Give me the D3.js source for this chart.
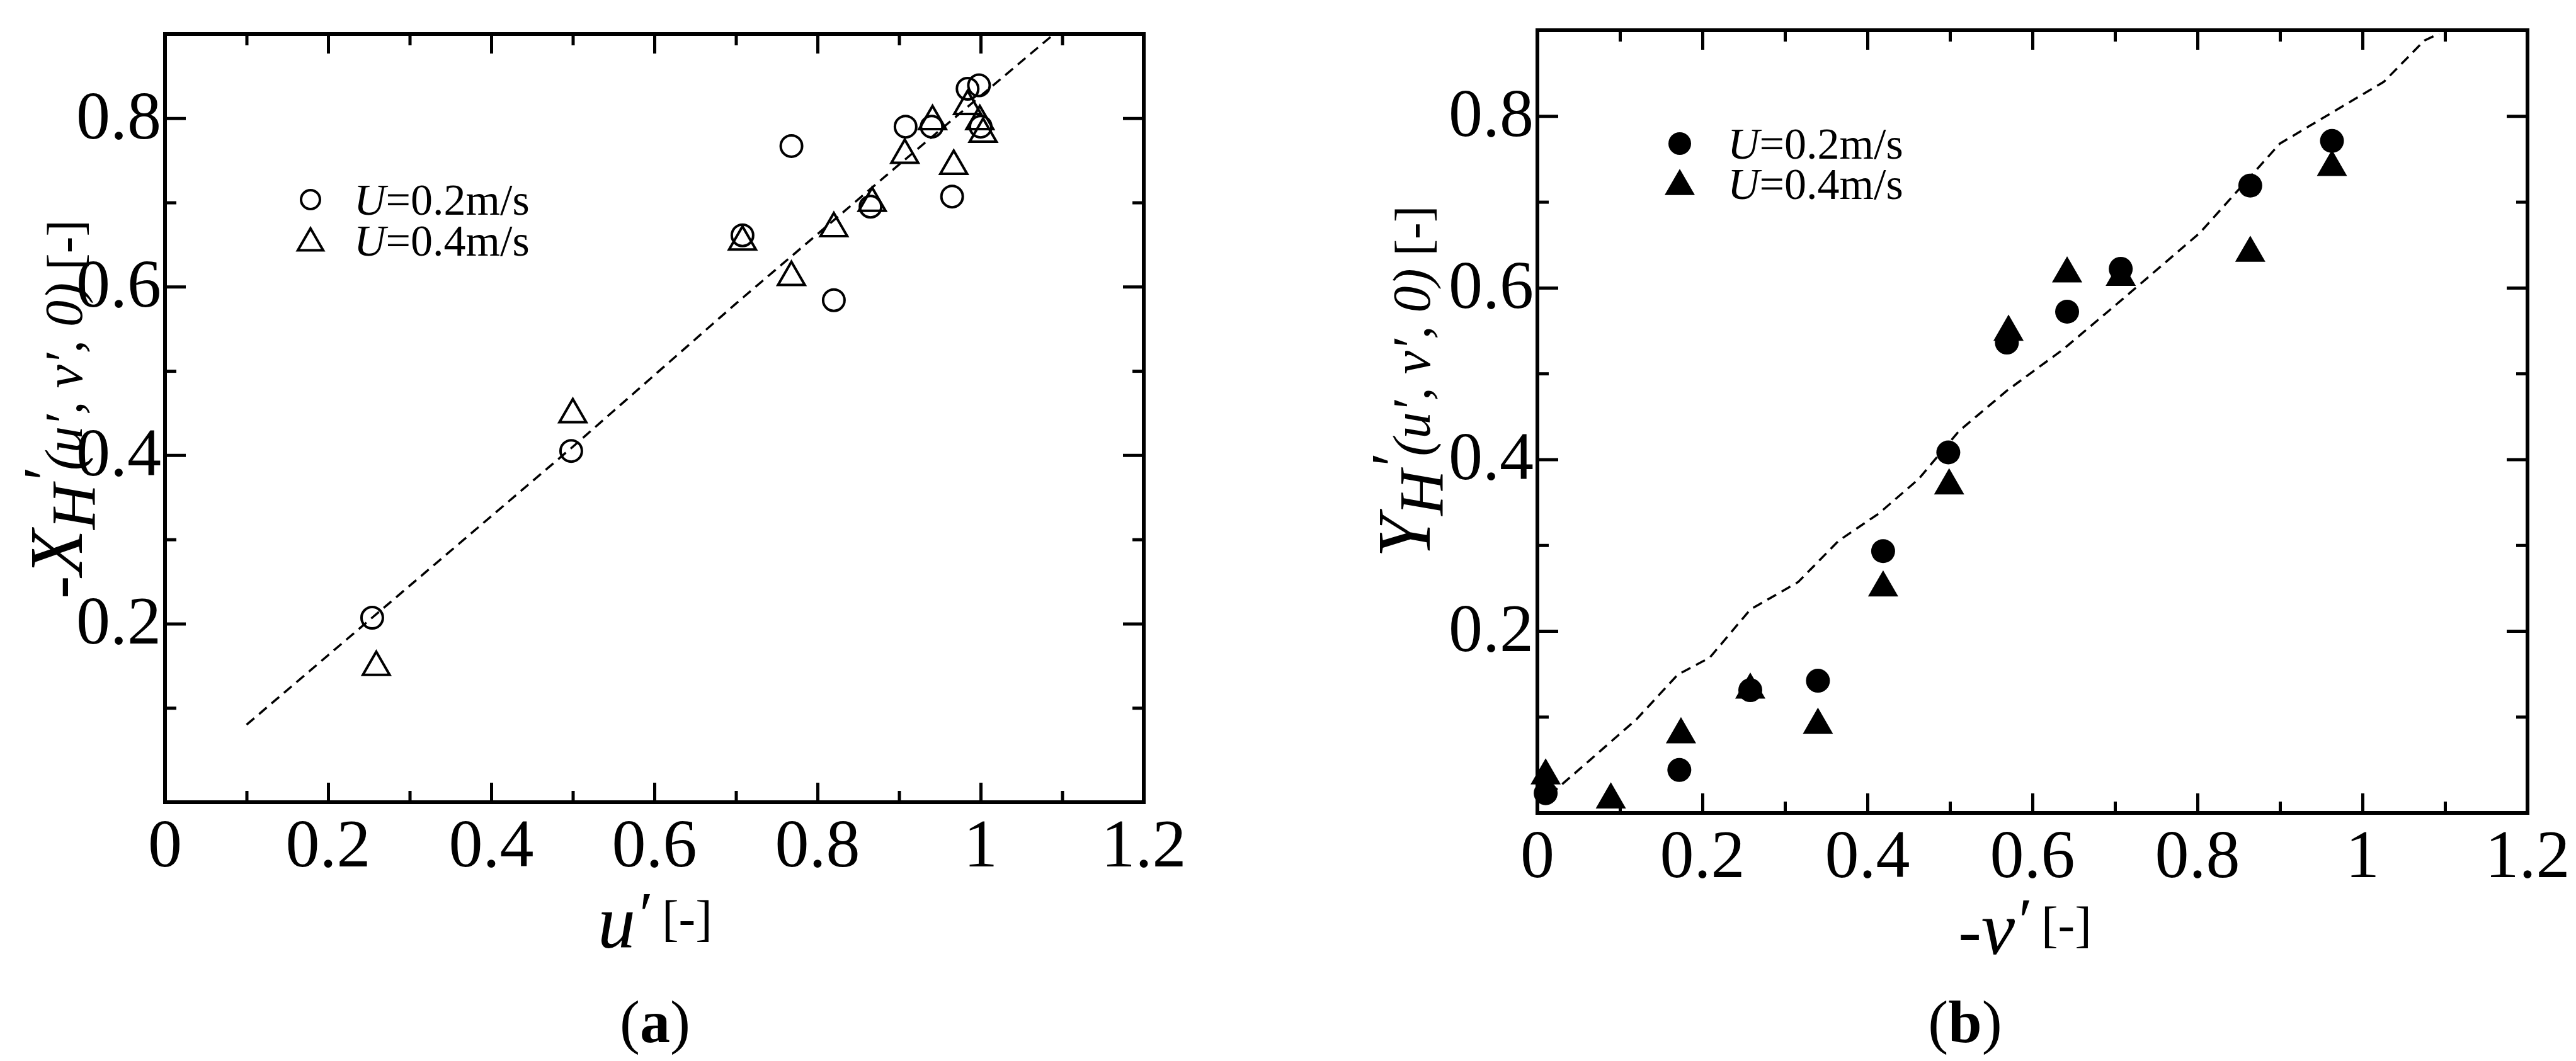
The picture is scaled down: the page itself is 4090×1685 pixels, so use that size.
<!DOCTYPE html>
<html>
<head>
<meta charset="utf-8">
<script src="https://cdn.jsdelivr.net/npm/d3@7"></script>
<style>
  body { margin: 0; background: #fff; }
  text { font-family: "Liberation Serif", "DejaVu Serif", serif; fill: #000; }
</style>
</head>
<body>
<svg id="chart" width="4090" height="1685"></svg>
<script>
// panel (a): -X_H' vs u'
const aCircleX = [0.254, 0.498, 0.708, 0.768, 0.82, 0.865, 0.908, 0.94, 0.965, 0.984, 0.998, 1.0];
const aCircleY = [0.207, 0.405, 0.661, 0.767, 0.584, 0.695, 0.79, 0.79, 0.707, 0.835, 0.839, 0.79];
const aTriX = [0.259, 0.5, 0.708, 0.768, 0.82, 0.867, 0.907, 0.941, 0.967, 0.984, 0.999, 1.003];
const aTriY = [0.152, 0.452, 0.657, 0.615, 0.673, 0.703, 0.76, 0.80, 0.747, 0.818, 0.80, 0.785];
const aFitX = [0.1, 0.3, 0.5, 0.7, 0.9, 1.09];
const aFitY = [0.08, 0.245, 0.41, 0.58, 0.745, 0.9];

// panel (b): Y_H' vs -v'
const bCircleX = [0.01, 0.172, 0.258, 0.34, 0.419, 0.498, 0.569, 0.642, 0.707, 0.864, 0.963];
const bCircleY = [0.011, 0.038, 0.131, 0.142, 0.293, 0.408, 0.536, 0.572, 0.622, 0.719, 0.771];
const bTriX = [0.01, 0.089, 0.174, 0.258, 0.34, 0.419, 0.499, 0.571, 0.642, 0.707, 0.864, 0.963];
const bTriY = [0.035, 0.007, 0.083, 0.135, 0.094, 0.254, 0.373, 0.552, 0.62, 0.616, 0.644, 0.744];
const bFitX = [0.015, 0.063, 0.12, 0.17, 0.209, 0.258, 0.316, 0.365, 0.414, 0.462, 0.511, 0.569, 0.637, 0.706, 0.803, 0.9, 1.026, 1.075, 1.093];
const bFitY = [0.009, 0.049, 0.097, 0.149, 0.169, 0.225, 0.257, 0.305, 0.337, 0.377, 0.433, 0.48, 0.528, 0.584, 0.664, 0.768, 0.84, 0.888, 0.896];

const xTicks = [0, 0.2, 0.4, 0.6, 0.8, 1, 1.2];
const yTicks = [0.2, 0.4, 0.6, 0.8];
const legendLabels = ["=0.2m/s", "=0.4m/s"];

const svg = d3.select("#chart");

function drawPanel(p) {
  const x = d3.scaleLinear().domain([0, 1.2]).range([p.left, p.right]);
  const y = d3.scaleLinear().domain([-0.012, 0.9]).range([p.bottom, p.top]);
  const g = svg.append("g");

  // minor + major ticks on all four sides, pointing inward
  const minorX = d3.range(0.1, 1.2, 0.2), minorY = d3.range(0.1, 0.9, 0.2);
  const axisStyle = sel => { sel.select(".domain").remove(); sel.selectAll("line").attr("stroke", "#000").attr("stroke-width", 5); sel.selectAll("text").remove(); };
  [[d3.axisBottom, p.bottom], [d3.axisTop, p.top]].forEach(([ax, pos]) => {
    g.append("g").attr("transform", `translate(0,${pos})`).call(ax(x).tickValues(xTicks).tickSize(-31)).call(axisStyle);
    g.append("g").attr("transform", `translate(0,${pos})`).call(ax(x).tickValues(minorX).tickSize(-18)).call(axisStyle);
  });
  [[d3.axisLeft, p.left], [d3.axisRight, p.right]].forEach(([ax, pos]) => {
    g.append("g").attr("transform", `translate(${pos},0)`).call(ax(y).tickValues(yTicks).tickSize(-33)).call(axisStyle);
    g.append("g").attr("transform", `translate(${pos},0)`).call(ax(y).tickValues(minorY).tickSize(-18)).call(axisStyle);
  });

  g.append("rect").attr("x", p.left).attr("y", p.top)
    .attr("width", p.right - p.left).attr("height", p.bottom - p.top)
    .attr("fill", "none").attr("stroke", "#000").attr("stroke-width", 6);

  // tick labels
  g.selectAll(".xl").data(xTicks).join("text")
    .attr("x", d => x(d)).attr("y", p.bottom + 102)
    .attr("text-anchor", "middle").attr("font-size", 108).text(d => d3.format("~g")(d));
  g.selectAll(".yl").data(yTicks).join("text")
    .attr("x", p.left - 6).attr("y", d => y(d) + 32)
    .attr("text-anchor", "end").attr("font-size", 108).text(d => d.toFixed(1));

  // fit line
  const line = d3.line().x(d => x(d[0])).y(d => y(d[1]));
  g.append("path").datum(d3.zip(p.fitX, p.fitY)).attr("d", line)
    .attr("fill", "none").attr("stroke", "#000").attr("stroke-width", 3.5).attr("stroke-dasharray", "16,10");

  const circ = p.filled ? 19 : 17;
  const tri = d3.symbol().type(d3.symbolTriangle).size(p.filled ? 1000 : 780);
  const sw = p.filled ? 0 : 4;

  g.selectAll(".tri").data(d3.zip(p.triX, p.triY)).join("path")
    .attr("d", tri).attr("transform", d => `translate(${x(d[0])},${y(d[1]) + 5})`)
    .attr("fill", p.filled ? "#000" : "none").attr("stroke", "#000").attr("stroke-width", sw);
  g.selectAll(".circ").data(d3.zip(p.circX, p.circY)).join("circle")
    .attr("cx", d => x(d[0])).attr("cy", d => y(d[1])).attr("r", circ)
    .attr("fill", p.filled ? "#000" : "none").attr("stroke", "#000").attr("stroke-width", sw);

  // legend
  const lg = p.legend;
  g.append("circle").attr("cx", lg.mx).attr("cy", lg.y1).attr("r", p.filled ? 18 : 15)
    .attr("fill", p.filled ? "#000" : "none").attr("stroke", "#000").attr("stroke-width", sw);
  g.append("path").attr("d", d3.symbol().type(d3.symbolTriangle).size(p.filled ? 1000 : 700))
    .attr("transform", `translate(${lg.mx},${lg.y2 + 4})`)
    .attr("fill", p.filled ? "#000" : "none").attr("stroke", "#000").attr("stroke-width", sw);
  [lg.y1, lg.y2].forEach((yy, i) => {
    const t = g.append("text").attr("x", lg.tx).attr("y", yy + 24).attr("font-size", 70);
    t.append("tspan").attr("font-style", "italic").text("U");
    t.append("tspan").text(legendLabels[i]);
  });

  // x label
  const xl = g.append("text").attr("x", p.xlab.x).attr("y", p.xlab.y).attr("text-anchor", "middle");
  p.xlab.parts.forEach(([s, sz, it, dy]) => xl.append("tspan").attr("font-size", sz).attr("font-style", it ? "italic" : "normal").attr("dy", dy || 0).text(s));

  // y label
  const yl = g.append("text").attr("transform", `translate(${p.ylab.x},${p.ylab.y}) rotate(-90)`).attr("text-anchor", "middle");
  p.ylab.parts.forEach(([s, sz, it, dy]) => yl.append("tspan").attr("font-size", sz).attr("font-style", it ? "italic" : "normal").attr("dy", dy || 0).text(s));

  g.append("text").attr("x", p.cap.x).attr("y", 1655).attr("text-anchor", "middle").attr("font-size", 96)
    .call(t => { t.append("tspan").text("("); t.append("tspan").attr("font-weight", "bold").text(p.cap.t); t.append("tspan").text(")"); });
}

drawPanel({
  left: 262, right: 1816, top: 54, bottom: 1274, filled: false,
  circX: aCircleX, circY: aCircleY, triX: aTriX, triY: aTriY, fitX: aFitX, fitY: aFitY,
  legend: { mx: 493, tx: 562, y1: 317, y2: 382 },
  xlab: { x: 1040, y: 1505, parts: [["u", 120, true], ["\u2032", 100, true, -20], [" [-]", 80, false, 0]] },
  ylab: { x: 130, y: 650, parts: [["-", 110, false], ["X", 120, true], ["H", 100, true, 20], ["\u2032", 100, true, -45], ["(u\u2032, v\u2032, 0)", 84, true, 25], [" [-]", 80, false]] },
  cap: { x: 1040, t: "a" }
});

drawPanel({
  left: 2441, right: 4013, top: 48, bottom: 1291, filled: true,
  circX: bCircleX, circY: bCircleY, triX: bTriX, triY: bTriY, fitX: bFitX, fitY: bFitY,
  legend: { mx: 2667, tx: 2743, y1: 228, y2: 292 },
  xlab: { x: 3215, y: 1515, parts: [["-", 110, false], ["v", 120, true], ["\u2032", 100, true, -20], [" [-]", 80, false, 0]] },
  ylab: { x: 2270, y: 606, parts: [["Y", 120, true], ["H", 100, true, 20], ["\u2032", 100, true, -45], ["(u\u2032, v\u2032, 0)", 84, true, 25], [" [-]", 80, false]] },
  cap: { x: 3120, t: "b" }
});
</script>
</body>
</html>
